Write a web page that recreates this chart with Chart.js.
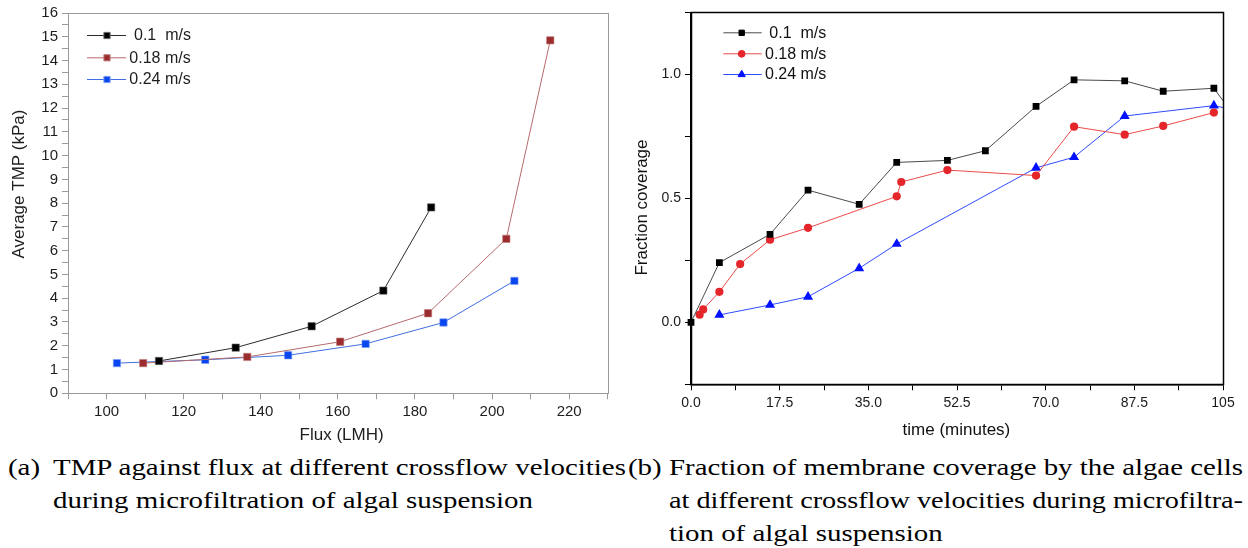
<!DOCTYPE html>
<html><head><meta charset="utf-8">
<script src="https://cdn.jsdelivr.net/npm/chart.js@4.4.1/dist/chart.umd.min.js"></script>
<style>
html,body{margin:0;padding:0;background:#fff;width:1248px;height:548px;overflow:hidden;}
#wa{position:absolute;left:0;top:0;width:624px;height:448px;}
#wb{position:absolute;left:624px;top:0;width:624px;height:448px;}
.cap{position:absolute;font-family:"Liberation Serif","Times New Roman",serif;font-size:24px;color:#000;white-space:pre;line-height:24px;transform-origin:0 0;}
</style></head><body>
<div id="wa"><canvas id="ca" width="624" height="448"></canvas></div>
<div id="wb"><canvas id="cb" width="624" height="448"></canvas></div>
<div id="caps"></div>
<script>
// ---------- DATA: chart (a) TMP vs flux ----------
const seriesLabels = ['0.1  m/s', '0.18 m/s', '0.24 m/s'];
const fluxBlack = [113.6, 133.5, 153.2, 171.8, 184.2];
const tmpBlack  = [1.36, 1.92, 2.82, 4.32, 7.82];
const fluxRed   = [109.5, 136.5, 160.6, 183.4, 203.7, 215.1];
const tmpRed    = [1.27, 1.53, 2.17, 3.37, 6.50, 14.85];
const fluxBlue  = [102.7, 125.6, 147.1, 167.2, 187.4, 205.8];
const tmpBlue   = [1.27, 1.41, 1.60, 2.08, 2.98, 4.73];
const fluxTickLabels = ['100', '120', '140', '160', '180', '200', '220'];
const tmpTickLabels = ['0','1','2','3','4','5','6','7','8','9','10','11','12','13','14','15','16'];

// ---------- DATA: chart (b) fraction coverage vs time ----------
const timeBlack = [0, 5.6, 15.6, 23.1, 33.2, 40.6, 50.6, 58.1, 68.1, 75.6, 85.6, 93.2, 103.2, 108.75];
const covBlack  = [0, 0.241, 0.355, 0.533, 0.476, 0.645, 0.653, 0.692, 0.871, 0.978, 0.974, 0.932, 0.944, 0.79];
const timeRed   = [1.7, 2.4, 5.6, 9.7, 15.6, 23.1, 40.6, 41.5, 50.6, 68.1, 75.6, 85.6, 93.2, 103.2];
const covRed    = [0.031, 0.052, 0.123, 0.235, 0.333, 0.381, 0.508, 0.566, 0.614, 0.592, 0.789, 0.757, 0.792, 0.846];
const timeBlue  = [5.6, 15.6, 23.1, 33.2, 40.6, 68.1, 75.6, 85.6, 103.2, 108.75];
const covBlue   = [0.03, 0.07, 0.103, 0.218, 0.316, 0.623, 0.666, 0.832, 0.874, 0.85];
const timeTickLabels = ['0.0', '17.5', '35.0', '52.5', '70.0', '87.5', '105'];
const covTickLabels = ['0.0', '0.5', '1.0'];

// ---------- captions ----------
const captionA = ['(a)', 'TMP against flux at different crossflow velocities', 'during microfiltration of algal suspension'];
const captionB = ['(b)', 'Fraction of membrane coverage by the algae cells', 'at different crossflow velocities during microfiltra-', 'tion of algal suspension'];

function pts(xs, ys) { return xs.map((x, i) => ({x: x, y: ys[i]})); }
function labelFor(list) {
  return function(v) {
    for (const s of list) { if (Math.abs(parseFloat(s) - v) < 1e-6) return s; }
    return '';
  };
}

const SANS = '"Liberation Sans", Arial, sans-serif';

const overlayPlugin = {
  id: 'overlay',
  afterDraw(chart, args, o) {
    const ctx = chart.ctx;
    const a = chart.chartArea;
    ctx.save();
    // frame
    ctx.strokeStyle = o.frameColor; ctx.lineWidth = o.frameWidth;
    ctx.strokeRect(Math.round(a.left) + 0.5, Math.round(a.top) + 0.5, Math.round(a.right - a.left), Math.round(a.bottom - a.top));
    // legend
    chart.data.datasets.forEach((ds, i) => {
      const y = o.legend.rows[i];
      ctx.strokeStyle = ds.borderColor; ctx.lineWidth = 1;
      ctx.beginPath(); ctx.moveTo(o.legend.x1, y + 0.5); ctx.lineTo(o.legend.x2, y + 0.5); ctx.stroke();
      ctx.fillStyle = ds.pointBackgroundColor; ctx.strokeStyle = ds.pointBorderColor;
      Chart.helpers.drawPoint(ctx, {pointStyle: ds.pointStyle, radius: o.legend.radius[i], rotation: 0, borderWidth: 1}, o.legend.xm, y + 0.5);
      ctx.fillStyle = o.textColor; ctx.font = o.legend.font;
      ctx.textBaseline = 'middle'; ctx.textAlign = 'left';
      ctx.fillText(ds.label, o.legend.tx[i], y + 1);
    });
    // axis titles
    ctx.fillStyle = o.textColor; ctx.font = o.titleFont;
    ctx.textAlign = 'center'; ctx.textBaseline = 'middle';
    ctx.fillText(o.xTitle.text, o.xTitle.x, o.xTitle.y);
    ctx.translate(o.yTitle.x, o.yTitle.y); ctx.rotate(-Math.PI / 2);
    ctx.fillText(o.yTitle.text, 0, 0);
    ctx.restore();
  }
};

function makeScale(o) {
  return {
    type: 'linear', position: o.position, min: o.min, max: o.max,
    border: {display: true, color: o.axisColor, width: o.axisWidth},
    grid: {display: true, drawOnChartArea: false, drawTicks: true, tickLength: 6, tickColor: o.axisColor, tickWidth: 1},
    ticks: {stepSize: o.step, autoSkip: false, maxRotation: 0, minRotation: 0, padding: 4, color: o.textColor,
            font: {family: SANS, size: o.fontSize}, callback: labelFor(o.labels)},
    afterFit: o.fit
  };
}

// ---------- chart (a) ----------
new Chart(document.getElementById('ca'), {
  type: 'scatter',
  data: {datasets: [
    {label: seriesLabels[0], data: pts(fluxBlack, tmpBlack), showLine: true, borderColor: '#2b2b2b', borderWidth: 1,
     pointStyle: 'rect', pointRadius: 5.2, pointBackgroundColor: '#000000', pointBorderColor: '#6a6a6a', pointBorderWidth: 0.6},
    {label: seriesLabels[1], data: pts(fluxRed, tmpRed), showLine: true, borderColor: '#b56a6a', borderWidth: 1,
     pointStyle: 'rect', pointRadius: 5.2, pointBackgroundColor: '#9b2b2c', pointBorderColor: '#c08080', pointBorderWidth: 0.6},
    {label: seriesLabels[2], data: pts(fluxBlue, tmpBlue), showLine: true, borderColor: '#3f6fe0', borderWidth: 1,
     pointStyle: 'rect', pointRadius: 5.2, pointBackgroundColor: '#0a46f0', pointBorderColor: '#7c9ef0', pointBorderWidth: 0.6}
  ]},
  options: {
    responsive: false, animation: false, devicePixelRatio: 1,
    layout: {padding: {left: 0, top: 10.7, right: 16.3, bottom: 0}},
    scales: {
      x: makeScale({position: 'bottom', min: 90, max: 230, step: 10, labels: fluxTickLabels, axisColor: '#9a9a9a', axisWidth: 1,
                    textColor: '#1e1e1e', fontSize: 15, fit: s => { s.height = 448 - 393.3; }}),
      y: makeScale({position: 'left', min: 0, max: 16, step: 0.5, labels: tmpTickLabels, axisColor: '#9a9a9a', axisWidth: 1,
                    textColor: '#1e1e1e', fontSize: 15, fit: s => { s.width = 68; }})
    },
    plugins: {
      legend: {display: false}, tooltip: {enabled: false},
      overlay: {
        frameColor: '#9a9a9a', frameWidth: 1, textColor: '#1e1e1e',
        titleFont: '17px ' + SANS,
        xTitle: {text: 'Flux (LMH)', x: 341.6, y: 435},
        yTitle: {text: 'Average TMP (kPa)', x: 19, y: 184},
        legend: {x1: 87, x2: 126, xm: 107, rows: [35, 57.3, 79], radius: [4.4, 4.4, 4.4], tx: [134, 129.3, 129.3], font: '16px ' + SANS}
      }
    }
  },
  plugins: [overlayPlugin]
});

// ---------- chart (b) ----------
const clipB = {left: 8, top: 8, right: 0, bottom: 8};
new Chart(document.getElementById('cb'), {
  type: 'scatter',
  data: {datasets: [
    {label: seriesLabels[0], data: pts(timeBlack, covBlack), showLine: true, borderColor: '#4a4a4a', borderWidth: 1, clip: clipB,
     pointStyle: 'rect', pointRadius: 4.8, pointBackgroundColor: '#000000', pointBorderColor: '#000000', pointBorderWidth: 0},
    {label: seriesLabels[1], data: pts(timeRed, covRed), showLine: true, borderColor: '#ec4a4a', borderWidth: 1, clip: clipB,
     pointStyle: 'circle', pointRadius: 4.1, pointBackgroundColor: '#e4262b', pointBorderColor: '#e4262b', pointBorderWidth: 0},
    {label: seriesLabels[2], data: pts(timeBlue, covBlue), showLine: true, borderColor: '#2f4cff', borderWidth: 1, clip: clipB,
     pointStyle: 'triangle', pointRadius: 5.8, pointBackgroundColor: '#0010ff', pointBorderColor: '#0010ff', pointBorderWidth: 0}
  ]},
  options: {
    responsive: false, animation: false, devicePixelRatio: 1,
    layout: {padding: {left: 0, top: 7.3, right: 25, bottom: 0}},
    scales: {
      x: makeScale({position: 'bottom', min: 0, max: 105, step: 8.75, labels: timeTickLabels, axisColor: '#000000', axisWidth: 1.5,
                    textColor: '#1a1a1a', fontSize: 14, fit: s => { s.height = 448 - 384.3; }}),
      y: makeScale({position: 'left', min: -0.25, max: 1.25, step: 0.25, labels: covTickLabels, axisColor: '#000000', axisWidth: 1.5,
                    textColor: '#1a1a1a', fontSize: 14, fit: s => { s.width = 67; }})
    },
    plugins: {
      legend: {display: false}, tooltip: {enabled: false},
      overlay: {
        frameColor: '#000000', frameWidth: 1.5, textColor: '#111111',
        titleFont: '17px ' + SANS,
        xTitle: {text: 'time (minutes)', x: 332.4, y: 430},
        yTitle: {text: 'Fraction coverage', x: 18, y: 207.5},
        legend: {x1: 99.3, x2: 137.7, xm: 117.7, rows: [32.3, 53.3, 74], radius: [3.8, 3.4, 4.2], tx: [145.3, 141, 141], font: '16px ' + SANS}
      }
    }
  },
  plugins: [overlayPlugin]
});

// ---------- captions (HTML text) ----------
(function() {
  const host = document.getElementById('caps');
  const mc = document.createElement('canvas').getContext('2d');
  mc.font = '24px "Liberation Serif"';
  const colW = 574;
  const kA = colW / mc.measureText(captionA[1]).width;
  function line(text, x, top, k) {
    const d = document.createElement('div');
    d.className = 'cap'; d.textContent = text;
    d.style.left = x + 'px'; d.style.top = top + 'px';
    d.style.transform = 'scaleX(' + k + ')';
    host.appendChild(d);
  }
  function fit(text) { return colW / mc.measureText(text).width; }
  const tops = [455, 488, 521];
  line(captionA[0], 8, tops[0], kA);
  line(captionA[1], 53, tops[0], fit(captionA[1]));
  line(captionA[2], 53, tops[1], kA);
  line(captionB[0], 628, tops[0], kA);
  line(captionB[1], 669, tops[0], fit(captionB[1]));
  line(captionB[2], 669, tops[1], fit(captionB[2]));
  line(captionB[3], 669, tops[2], kA);
})();
</script>
</body></html>
